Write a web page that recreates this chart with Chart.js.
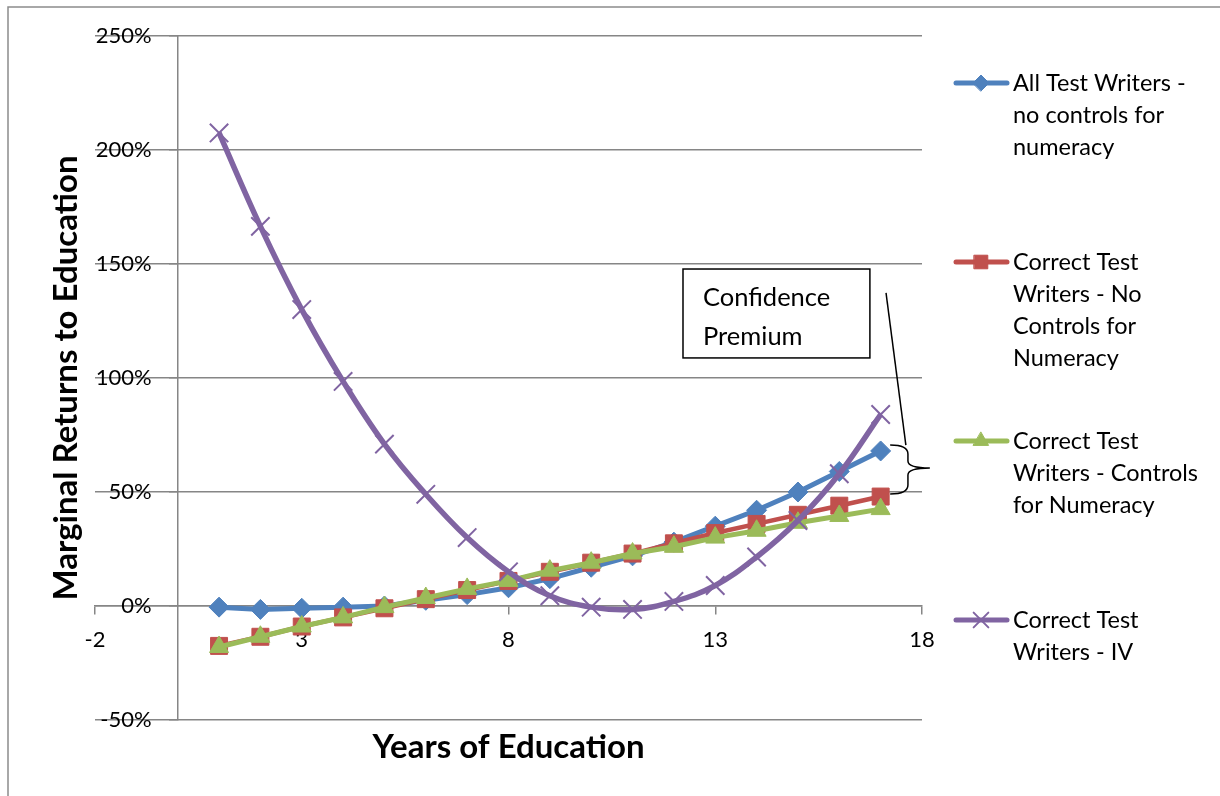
<!DOCTYPE html>
<html>
<head>
<meta charset="utf-8">
<script src="https://cdn.jsdelivr.net/npm/chart.js@4/dist/chart.umd.min.js"></script>
<style>
  body { margin: 0; background: #fff; }
  #wrap { width: 1220px; height: 796px; position: relative; }
</style>
</head>
<body>
<div id="wrap"><canvas id="returnsChart"></canvas></div>
<script>
// Years of education (x values)
const years = [1, 2, 3, 4, 5, 6, 7, 8, 9, 10, 11, 12, 13, 14, 15, 16, 17];

// Marginal returns, in percent
const allWriters = [-0.5, -1.5, -1, -0.5, 0, 2.5, 5, 8, 12, 17, 22, 28, 35, 42, 50, 59, 68];
const correctNoControls = [-17.5, -13.5, -9, -5, -1, 3, 7, 11, 15, 19, 23, 27.5, 32, 36, 40, 44, 48];
const correctControls = [-18, -13.5, -9, -5, -0.5, 3.5, 7.5, 11, 15.5, 19, 23, 26, 30, 33, 36.5, 39.5, 42.5];
const correctIV = [207.5, 166.5, 130, 98.5, 71, 49, 30, 15, 4.5, -0.5, -1.5, 2, 9, 21.5, 37.5, 58, 84];

const xTicks = [-2, 3, 8, 13, 18];

const legendLabels = [
    ['All Test Writers -', 'no controls for', 'numeracy'],
    ['Correct Test', 'Writers - No', 'Controls for', 'Numeracy'],
    ['Correct Test', 'Writers - Controls', 'for Numeracy'],
    ['Correct Test', 'Writers - IV']
];

const GRID = '#868686';
const FONT = 'Lato';

function toPoints(values) {
    return years.map((yr, i) => ({ x: yr, y: values[i] }));
}

// frame, axis titles, custom legend and the "Confidence Premium" note
const extras = {
    id: 'extras',
    beforeDraw(chart) {
        // y labels sit a little left of the axis line
        chart.scales.y.getLabelItems().forEach(item => {
            item.options.translation[0] = chart.scales.x.getPixelForValue(0) - 26;
        });
        const ctx = chart.ctx;
        ctx.save();
        ctx.strokeStyle = '#8c8c8c';
        ctx.lineWidth = 1.5;
        ctx.beginPath();
        ctx.moveTo(8, chart.height + 5);
        ctx.lineTo(8, 7);
        ctx.lineTo(chart.width + 5, 7);
        ctx.stroke();
        ctx.restore();
    },
    afterDraw(chart) {
        const ctx = chart.ctx;
        const xs = chart.scales.x, ys = chart.scales.y;
        const px = v => xs.getPixelForValue(v);
        const py = v => ys.getPixelForValue(v);
        ctx.save();
        ctx.fillStyle = '#000';

        // axis titles
        ctx.font = 'bold 33px ' + FONT;
        ctx.textAlign = 'center';
        ctx.textBaseline = 'middle';
        ctx.fillText('Years of Education', (chart.chartArea.left + chart.chartArea.right) / 2, 747);
        ctx.save();
        ctx.translate(66, 378);
        ctx.rotate(-Math.PI / 2);
        ctx.fillText('Marginal Returns to Education', 0, 0);
        ctx.restore();

        // legend
        ctx.font = '23.5px ' + FONT;
        ctx.textAlign = 'left';
        chart.data.datasets.forEach((ds, i) => {
            const y0 = 83 + i * 179;
            ctx.strokeStyle = ds.borderColor;
            ctx.lineWidth = 5;
            ctx.lineCap = 'round';
            ctx.beginPath();
            ctx.moveTo(956, y0);
            ctx.lineTo(1007, y0);
            ctx.stroke();
            ctx.fillStyle = ds.pointBackgroundColor;
            ctx.strokeStyle = ds.pointBorderColor;
            ctx.lineWidth = ds.pointBorderWidth;
            Chart.helpers.drawPoint(ctx, {
                pointStyle: ds.pointStyle,
                radius: ds.pointRadius * 0.8,
                rotation: 0,
                borderWidth: ds.pointBorderWidth
            }, 981, y0);
            ctx.fillStyle = '#000';
            legendLabels[i].forEach((line, j) => {
                ctx.fillText(line, 1013, y0 + j * 32);
            });
        });

        // note box
        const bx1 = px(12.22), bx2 = px(16.74), by1 = py(147.8), by2 = py(108.8);
        ctx.strokeStyle = '#000';
        ctx.lineWidth = 1.5;
        ctx.lineCap = 'butt';
        ctx.strokeRect(bx1, by1, bx2 - bx1, by2 - by1);
        ctx.font = '25.5px ' + FONT;
        ctx.fillText('Confidence', bx1 + 20, by1 + 29);
        ctx.fillText('Premium', bx1 + 20, by1 + 68);

        // leader line and brace
        ctx.lineWidth = 1.5;
        ctx.beginPath();
        ctx.moveTo(px(17.13), py(137.3));
        ctx.lineTo(px(17.61), py(70.6));
        ctx.stroke();

        const e = px(17.23), v = px(17.66), tip = px(18.19);
        const top = py(70.6), mid = py(60.5), bot = py(49.1);
        ctx.beginPath();
        ctx.moveTo(e, top);
        ctx.quadraticCurveTo(v, top, v, top + 9);
        ctx.lineTo(v, mid - 7);
        ctx.quadraticCurveTo(v, mid, tip, mid);
        ctx.quadraticCurveTo(v, mid, v, mid + 7);
        ctx.lineTo(v, bot - 9);
        ctx.quadraticCurveTo(v, bot, e, bot);
        ctx.stroke();
        ctx.restore();
    }
};

Chart.defaults.font.family = FONT;
Chart.defaults.color = '#000';

const ctx = document.getElementById('returnsChart').getContext('2d');

const myChart = new Chart(ctx, {
    type: 'line',
    data: {
        datasets: [{
            label: legendLabels[0].join(' '),
            data: toPoints(allWriters),
            borderColor: '#4F81BD',
            backgroundColor: '#4F81BD',
            pointBackgroundColor: '#4F81BD',
            pointBorderColor: '#4F81BD',
            pointBorderWidth: 1,
            pointStyle: 'rectRot',
            pointRadius: 10,
            borderWidth: 5,
            order: 4
        }, {
            label: legendLabels[1].join(' '),
            data: toPoints(correctNoControls),
            borderColor: '#C0504D',
            backgroundColor: '#C0504D',
            pointBackgroundColor: '#C0504D',
            pointBorderColor: '#C0504D',
            pointBorderWidth: 1,
            pointStyle: 'rect',
            pointRadius: 12,
            borderWidth: 4.5,
            order: 3
        }, {
            label: legendLabels[2].join(' '),
            data: toPoints(correctControls),
            borderColor: '#9BBB59',
            backgroundColor: '#9BBB59',
            pointBackgroundColor: '#9BBB59',
            pointBorderColor: '#9BBB59',
            pointBorderWidth: 1,
            pointStyle: 'triangle',
            pointRadius: 11,
            borderWidth: 5,
            order: 2
        }, {
            label: legendLabels[3].join(' '),
            data: toPoints(correctIV),
            borderColor: '#8064A2',
            backgroundColor: '#8064A2',
            pointBackgroundColor: '#8064A2',
            pointBorderColor: '#8064A2',
            pointBorderWidth: 2,
            pointStyle: 'crossRot',
            pointRadius: 13,
            borderWidth: 5.5,
            tension: 0.4,
            order: 1
        }]
    },
    options: {
        responsive: true,
        maintainAspectRatio: false,
        animation: false,
        layout: { padding: { left: 95, top: 36, right: 298, bottom: 76 } },
        plugins: {
            legend: { display: false },
            tooltip: { enabled: false }
        },
        scales: {
            x: {
                type: 'linear',
                position: { y: 0 },
                min: -2,
                max: 18,
                afterBuildTicks: axis => { axis.ticks = xTicks.map(v => ({ value: v })); },
                grid: { display: true, drawOnChartArea: false, drawTicks: true, tickLength: 8, color: GRID, lineWidth: 1.5 },
                border: { display: true, color: GRID, width: 1.5 },
                ticks: { font: { size: 22 }, padding: 13, maxRotation: 0 }
            },
            y: {
                type: 'linear',
                position: { x: 0 },
                min: -50,
                max: 250,
                grid: { color: GRID, lineWidth: 1.5, tickLength: 8 },
                border: { display: true, color: GRID, width: 1.5 },
                ticks: {
                    stepSize: 50,
                    font: { size: 22 },
                    callback: value => value + '%'
                }
            }
        }
    },
    plugins: [extras]
});
</script>
</body>
</html>
